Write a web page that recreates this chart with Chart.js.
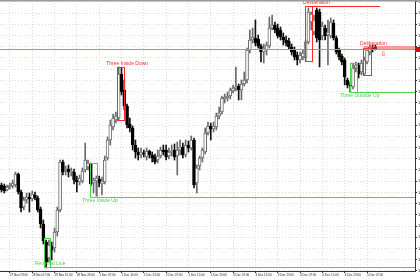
<!DOCTYPE html>
<html>
<head>
<meta charset="utf-8">
<script src="https://cdn.jsdelivr.net/npm/chart.js@4.4.1/dist/chart.umd.min.js"></script>
<style>
  html, body { margin: 0; padding: 0; background: #fff; }
  #wrap { width: 420px; height: 280px; }
</style>
</head>
<body>
<div id="wrap"><canvas id="chart" width="420" height="280"></canvas></div>
<script>
// H1 candles, 27 Nov 20:00 .. 5 Dec 10:00
const opens = [
  1.16425,1.16420,1.16400,1.16415,1.16420,1.16425,1.16480,1.16390,1.16315,1.16350,
  1.16365,1.16355,1.16375,1.16360,1.16305,1.16230,1.16140,1.16060,1.16120,1.16110,
  1.16190,1.16300,1.16540,1.16495,1.16505,1.16490,1.16490,1.16450,1.16440,1.16445,
  1.16500,1.16515,1.16530,1.16435,1.16445,1.16455,1.16430,1.16440,1.16560,1.16650,
  1.16715,1.16750,1.16760,1.16980,1.16900,1.16820,1.16730,1.16710,1.16625,1.16590,
  1.16575,1.16585,1.16565,1.16595,1.16575,1.16565,1.16550,1.16570,1.16600,1.16600,
  1.16570,1.16590,1.16600,1.16570,1.16600,1.16615,1.16575,1.16625,1.16610,1.16650,
  1.16435,1.16520,1.16560,1.16590,1.16685,1.16720,1.16705,1.16715,1.16770,1.16790,
  1.16855,1.16860,1.16870,1.16895,1.16910,1.16920,1.16900,1.16930,1.16950,1.17100,
  1.17150,1.17160,1.17155,1.17120,1.17090,1.17100,1.17120,1.17210,1.17225,1.17210,
  1.17200,1.17165,1.17150,1.17145,1.17115,1.17100,1.17075,1.17050,1.17065,1.17060,
  1.17140,1.17240,1.17190,1.17300,1.17290,1.17170,1.17210,1.17175,1.17170,1.17235,
  1.17160,1.17100,1.17070,1.17050,1.16950,1.16925,1.16915,1.17010,1.17025,1.16990,
  1.16980,1.17040,1.17090,1.17110,1.17115
];
const highs = [
  1.16435,1.16430,1.16425,1.16435,1.16450,1.16490,1.16485,1.16400,1.16365,1.16385,
  1.16385,1.16395,1.16390,1.16370,1.16315,1.16250,1.16150,1.16150,1.16140,1.16210,
  1.16315,1.16550,1.16550,1.16520,1.16525,1.16510,1.16505,1.16470,1.16475,1.16510,
  1.16635,1.16550,1.16535,1.16460,1.16470,1.16470,1.16465,1.16570,1.16665,1.16750,
  1.16780,1.16790,1.17015,1.17010,1.16950,1.16830,1.16760,1.16720,1.16650,1.16610,
  1.16610,1.16600,1.16610,1.16600,1.16590,1.16580,1.16600,1.16615,1.16625,1.16625,
  1.16610,1.16625,1.16630,1.16640,1.16650,1.16635,1.16650,1.16645,1.16670,1.16660,
  1.16525,1.16570,1.16610,1.16710,1.16740,1.16735,1.16740,1.16785,1.16815,1.16870,
  1.16880,1.16890,1.16910,1.16925,1.17015,1.16930,1.16950,1.16990,1.17110,1.17200,
  1.17210,1.17250,1.17175,1.17130,1.17130,1.17140,1.17265,1.17275,1.17240,1.17230,
  1.17215,1.17185,1.17170,1.17160,1.17130,1.17115,1.17090,1.17090,1.17100,1.17150,
  1.17310,1.17290,1.17275,1.17310,1.17305,1.17240,1.17225,1.17250,1.17260,1.17250,
  1.17170,1.17110,1.17080,1.17060,1.16960,1.16940,1.17035,1.17040,1.17035,1.17050,
  1.17065,1.17110,1.17125,1.17125,1.17125
];
const lows = [
  1.16390,1.16385,1.16395,1.16405,1.16410,1.16415,1.16380,1.16290,1.16300,1.16335,
  1.16290,1.16345,1.16350,1.16290,1.16210,1.16130,1.16010,1.16040,1.16050,1.16090,
  1.16170,1.16290,1.16475,1.16475,1.16465,1.16470,1.16430,1.16390,1.16425,1.16435,
  1.16490,1.16500,1.16420,1.16385,1.16370,1.16415,1.16375,1.16430,1.16550,1.16625,
  1.16700,1.16735,1.16750,1.16875,1.16800,1.16710,1.16690,1.16600,1.16560,1.16550,
  1.16560,1.16565,1.16550,1.16560,1.16540,1.16530,1.16535,1.16560,1.16575,1.16550,
  1.16555,1.16570,1.16550,1.16475,1.16575,1.16560,1.16565,1.16590,1.16600,1.16410,
  1.16385,1.16500,1.16540,1.16580,1.16675,1.16650,1.16690,1.16700,1.16755,1.16780,
  1.16835,1.16845,1.16855,1.16885,1.16895,1.16850,1.16850,1.16920,1.16935,1.17085,
  1.17135,1.17120,1.17110,1.17040,1.17035,1.17075,1.17110,1.17200,1.17185,1.17160,
  1.17150,1.17125,1.17120,1.17105,1.17075,1.17050,1.17025,1.17035,1.17050,1.17045,
  1.17130,1.17200,1.17175,1.17140,1.17015,1.17150,1.17150,1.17025,1.17160,1.17150,
  1.17080,1.17050,1.17025,1.16925,1.16910,1.16890,1.16905,1.16990,1.16960,1.16975,
  1.16975,1.17030,1.17075,1.17090,1.17100
];
const closes = [
  1.16400,1.16395,1.16415,1.16425,1.16435,1.16480,1.16390,1.16310,1.16350,1.16365,
  1.16355,1.16380,1.16360,1.16300,1.16230,1.16145,1.16040,1.16125,1.16100,1.16190,
  1.16300,1.16540,1.16490,1.16505,1.16490,1.16495,1.16450,1.16440,1.16460,1.16495,
  1.16550,1.16535,1.16430,1.16450,1.16460,1.16435,1.16445,1.16550,1.16650,1.16725,
  1.16760,1.16770,1.16980,1.16890,1.16820,1.16725,1.16710,1.16625,1.16590,1.16575,
  1.16590,1.16580,1.16595,1.16575,1.16560,1.16540,1.16570,1.16600,1.16590,1.16565,
  1.16590,1.16595,1.16565,1.16600,1.16615,1.16575,1.16625,1.16610,1.16650,1.16425,
  1.16510,1.16560,1.16600,1.16685,1.16720,1.16705,1.16720,1.16770,1.16785,1.16860,
  1.16865,1.16870,1.16900,1.16910,1.16915,1.16900,1.16930,1.16950,1.17100,1.17150,
  1.17165,1.17135,1.17120,1.17090,1.17110,1.17125,1.17210,1.17225,1.17200,1.17170,
  1.17165,1.17150,1.17135,1.17115,1.17090,1.17065,1.17050,1.17075,1.17085,1.17140,
  1.17290,1.17280,1.17250,1.17160,1.17150,1.17220,1.17170,1.17190,1.17240,1.17160,
  1.17090,1.17065,1.17040,1.16965,1.16925,1.16920,1.17010,1.17025,1.16980,1.17035,
  1.17050,1.17100,1.17115,1.17105,1.17105
];

// time axis: label positions (candle index) and texts
const timeTickIdx = [3, 11, 19, 27, 35, 43, 51, 59, 67, 75, 83, 91, 99, 107, 115, 123, 131];
const timeTickLabels = [
  "27 Nov 23:00", "28 Nov 07:00", "28 Nov 15:00", "28 Nov 23:00",
  "1 Dec 07:00", "1 Dec 15:00", "1 Dec 23:00", "2 Dec 07:00", "2 Dec 15:00", "2 Dec 23:00",
  "3 Dec 07:00", "3 Dec 15:00", "3 Dec 23:00", "4 Dec 07:00", "4 Dec 15:00", "4 Dec 23:00",
  "5 Dec 07:00"
];
// price axis grid levels
const priceTicks = [
  1.17340, 1.17284, 1.17228, 1.17172, 1.17116, 1.17060, 1.17004, 1.16948, 1.16892,
  1.16836, 1.16780, 1.16724, 1.16668, 1.16612, 1.16556, 1.16500, 1.16444, 1.16388,
  1.16332, 1.16276, 1.16220, 1.16164, 1.16108, 1.16052, 1.15996
];
const viewIdx = [-0.54, 148.2];
const viewPrice = [1.15995, 1.17350];
const lastPrice = 1.17105;

// candle patterns found by the indicator
const RED = "#ff2a2a";
const GREEN = "#4fd24f";
const patterns = [
  { text: "Reversal Line", color: GREEN, from: 15.4, to: 17.4, top: 1.16160, bottom: 1.16015,
    level: 1.16015, textIdx: 12.0, textPrice: 1.16030 },
  { text: "Three Inside Up", color: GREEN, from: 31.7, to: 34.2, top: 1.16535, bottom: 1.16365,
    level: 1.16365, textIdx: 28.9, textPrice: 1.16345 },
  { text: "Three Inside Down", color: RED, from: 41.4, to: 43.9, top: 1.17015, bottom: 1.16750,
    textIdx: 37.5, textPrice: 1.17030 },
  { text: "Deliberation", color: RED, from: 108.8, to: 111.3, top: 1.17320, bottom: 1.17045,
    level: 1.17320, levelTo: 135.7, textIdx: 108.1, textPrice: 1.17335 },
  { text: "Three Outside Up", color: GREEN, from: 125.0, to: 127.5, top: 1.17035, bottom: 1.16890,
    level: 1.16890, textIdx: 121.3, textPrice: 1.16870 },
  { text: "Deliberation", color: RED, from: 129.6, to: 132.4, top: 1.17110, bottom: 1.16975,
    level: 1.17113, levelWidth: 3, levelColor: "rgba(240,80,80,0.55)", textIdx: 128.5, textPrice: 1.17130 }
];

const bull = opens.map((o, i) => closes[i] >= o);
const wicks = opens.map((o, i) => ({ x: i, y: [lows[i], highs[i]] }));
const bodies = opens.map((o, i) => ({ x: i, y: [o, closes[i]] }));

const overlay = {
  id: "overlay",
  afterDatasetsDraw(chart) {
    const { ctx, chartArea: a, scales: { x, y } } = chart;
    ctx.save();
    ctx.beginPath();
    ctx.rect(a.left, a.top, a.right - a.left, a.bottom - a.top);
    ctx.clip();

    // current price line
    const py = Math.round(y.getPixelForValue(lastPrice)) + 0.5;
    ctx.strokeStyle = "#e77a7a";
    ctx.lineWidth = 1;
    ctx.beginPath(); ctx.moveTo(a.left, py); ctx.lineTo(a.right, py); ctx.stroke();

    ctx.font = '5px "Liberation Sans", Arial, sans-serif';
    ctx.textBaseline = "middle";
    patterns.forEach(p => {
      const x1 = Math.round(x.getPixelForValue(p.from)) + 0.5;
      const x2 = Math.round(x.getPixelForValue(p.to)) + 0.5;
      const y1 = Math.round(y.getPixelForValue(p.top)) + 0.5;
      const y2 = Math.round(y.getPixelForValue(p.bottom)) + 0.5;
      ctx.strokeStyle = p.color;
      ctx.lineWidth = 1;
      ctx.strokeRect(x1, y1, x2 - x1, y2 - y1);
      if (p.level !== undefined) {
        const ly = Math.round(y.getPixelForValue(p.level)) + 0.5;
        const lx2 = p.levelTo !== undefined ? x.getPixelForValue(p.levelTo) : a.right;
        ctx.strokeStyle = p.levelColor || p.color;
        ctx.lineWidth = p.levelWidth || 1;
        ctx.beginPath(); ctx.moveTo(x1, ly); ctx.lineTo(lx2, ly); ctx.stroke();
      }
      ctx.fillStyle = p.color;
      ctx.fillText(p.text, x.getPixelForValue(p.textIdx), y.getPixelForValue(p.textPrice));
    });

    // small arrow next to the last candle
    ctx.fillStyle = RED;
    ctx.font = '7px "DejaVu Sans", sans-serif';
    ctx.fillText("\u21E9", x.getPixelForValue(135.8), y.getPixelForValue(1.17080));
    ctx.restore();

    // price tag on the axis and window border
    ctx.save();
    ctx.fillStyle = "#d01010";
    ctx.fillRect(a.right, py - 2.5, 6, 5);
    ctx.fillStyle = "#9a9a9a";
    ctx.fillRect(0, 0, chart.width, 1.5);
    ctx.restore();
  }
};

const ctx = document.getElementById("chart").getContext("2d");
Chart.defaults.font.family = '"Liberation Sans", Arial, sans-serif';

new Chart(ctx, {
  type: "bar",
  data: {
    datasets: [
      {
        label: "wick",
        data: wicks,
        barThickness: 1,
        backgroundColor: bull.map(b => (b ? "#6a6a6a" : "#111")),
        borderWidth: 0,
        grouped: false,
        order: 2
      },
      {
        label: "body",
        data: bodies,
        barThickness: 3,
        minBarLength: 1,
        backgroundColor: bull.map(b => (b ? "#ffffff" : "#000000")),
        borderColor: bull.map(b => (b ? "#6a6a6a" : "#000000")),
        borderWidth: 1,
        borderSkipped: false,
        grouped: false,
        order: 1
      }
    ]
  },
  options: {
    responsive: false,
    animation: false,
    events: [],
    layout: { padding: 0 },
    plugins: { legend: { display: false }, tooltip: { enabled: false } },
    scales: {
      x: {
        type: "linear",
        min: viewIdx[0],
        max: viewIdx[1],
        offset: false,
        bounds: "data",
        afterBuildTicks: s => { s.ticks = timeTickIdx.map(v => ({ value: v })); },
        afterFit: s => { s.height = 9; s.paddingLeft = 0; s.paddingRight = 0; },
        grid: { color: "#dcdcdc", tickColor: "#333", tickLength: 2, offset: false },
        border: { display: true, color: "#333", dash: [1, 2] },
        ticks: {
          autoSkip: false,
          maxRotation: 0,
          align: "start",
          padding: 0,
          color: "#222",
          font: { size: 3 },
          callback: (v, i) => timeTickLabels[i]
        }
      },
      y: {
        position: "right",
        min: viewPrice[0],
        max: viewPrice[1],
        bounds: "data",
        afterBuildTicks: s => { s.ticks = priceTicks.map(v => ({ value: v })); },
        afterFit: s => { s.width = 5; s.paddingTop = 0; s.paddingBottom = 0; },
        grid: { color: "#dcdcdc", tickColor: "#333", tickLength: 2 },
        border: { display: true, color: "#333", dash: [1, 2] },
        ticks: {
          padding: 1,
          color: "#222",
          font: { size: 4 },
          callback: v => v.toFixed(5)
        }
      }
    }
  },
  plugins: [overlay]
});
</script>
</body>
</html>
